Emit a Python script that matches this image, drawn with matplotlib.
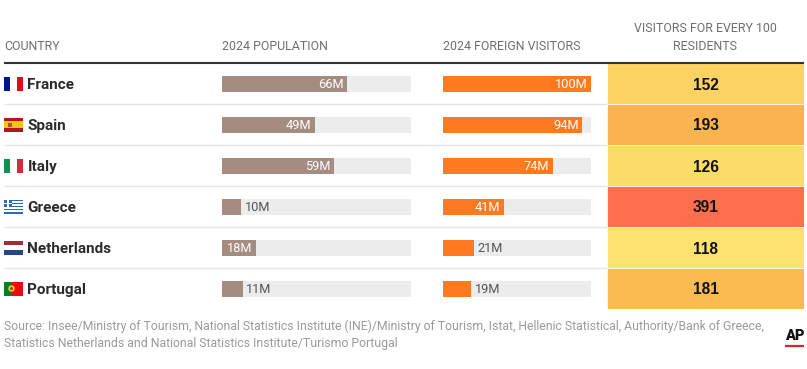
import matplotlib
matplotlib.use('Agg')
from matplotlib import pyplot as plt
from matplotlib.patches import Rectangle, Circle

plt.rcParams['font.family'] = ['Roboto', 'DejaVu Sans']

W, H = 807, 369

countries = ['France', 'Spain', 'Italy', 'Greece', 'Netherlands', 'Portugal']
population = [66, 49, 59, 10, 18, 11]
visitors = [100, 94, 74, 41, 21, 19]
per_100 = [152, 193, 126, 391, 118, 181]

headers = ['COUNTRY', '2024 POPULATION', '2024 FOREIGN VISITORS']
source = ('Source: Insee/Ministry of Tourism, National Statistics Institute (INE)/Ministry of Tourism, Istat, '
          'Hellenic Statistical, Authority/Bank of Greece,\n'
          'Statistics Netherlands and National Statistics Institute/Turismo Portugal')

heat_colors = ['#fcd262', '#f9b44f', '#fcdb69', '#ff6f4e', '#fde270', '#fbbb50']
flag_stripes = {
    'France': ('v', ['#00148c', '#ffffff', '#e30b17']),
    'Spain': ('h', ['#b5161c', '#f7c31a', '#f7c31a', '#b5161c']),
    'Italy': ('v', ['#0f9150', '#ffffff', '#cf3040']),
    'Greece': ('h', ['#2a6cb0', '#ffffff'] * 4 + ['#2a6cb0']),
    'Netherlands': ('h', ['#a8283c', '#ffffff', '#23478c']),
    'Portugal': ('v', ['#0f7a2a', '#0f7a2a', '#f00a0a', '#f00a0a', '#f00a0a']),
}

TOP, ROW = 63, 41


def px_axes(fig, x0, x1, y0, y1):
    return fig.add_axes([x0 / W, 1 - y1 / H, (x1 - x0) / W, (y1 - y0) / H])


def draw_bars(ax, values, color, width_px):
    ax.set_xlim(0, 100)
    ax.set_ylim(len(values) - 0.5, -0.5)
    ax.axis('off')
    rows = range(len(values))
    ax.barh(rows, [100] * len(values), height=16 / ROW, color='#ececec')
    ax.barh(rows, values, height=16 / ROW, color=color)
    for i, v in enumerate(values):
        # label goes inside only if the bar is long enough to hold it
        if v * width_px / 100 >= 33:
            ax.annotate(f'{v}M', (v, i), xytext=(-2.4, -0.9), textcoords='offset points',
                        ha='right', va='center', fontsize=9.2, color='#ffffff')
        else:
            ax.annotate(f'{v}M', (v, i), xytext=(2.6, -0.9), textcoords='offset points',
                        ha='left', va='center', fontsize=9.2, color='#555555')


def draw_flag(ax, name, yc):
    x0, w, h = 4, 19, 14
    kind, cols = flag_stripes[name]
    n = len(cols)
    for k, c in enumerate(cols):
        if kind == 'v':
            ax.add_patch(Rectangle((x0 + k * w / n, yc - h / 2), w / n, h, color=c, lw=0))
        else:
            ax.add_patch(Rectangle((x0, yc - h / 2 + k * h / n), w, h / n, color=c, lw=0))
    if name == 'Greece':
        ax.add_patch(Rectangle((x0, yc - h / 2), 7.5, 7.8, color='#2a6cb0', lw=0))
        ax.add_patch(Rectangle((x0 + 3, yc - h / 2), 1.5, 7.8, color='#ffffff', lw=0))
        ax.add_patch(Rectangle((x0, yc - h / 2 + 3.2), 7.5, 1.5, color='#ffffff', lw=0))
    if name == 'Spain':
        ax.add_patch(Rectangle((x0 + 4, yc - 2), 4, 4, color='#b0552a', lw=0))
    if name == 'Portugal':
        ax.add_patch(Circle((x0 + 7.5, yc), 3.2, color='#e8d020', lw=0))
        ax.add_patch(Circle((x0 + 7.5, yc), 1.5, color='#c8201c', lw=0))


fig = plt.figure(figsize=(W / 100, H / 100), dpi=100, facecolor='white')

# whole figure layer in pixel coordinates for rules, text and flags
bg = fig.add_axes([0, 0, 1, 1])
bg.set_xlim(0, W)
bg.set_ylim(H, 0)
bg.axis('off')

for i in range(1, len(countries)):
    bg.plot([4, 607], [TOP + i * ROW] * 2, color='#e4e4e4', lw=1, solid_capstyle='butt')

for i, name in enumerate(countries):
    yc = TOP + (i + 0.5) * ROW
    draw_flag(bg, name, yc)
    bg.text(27.5, yc, name, fontsize=11, fontweight='bold', color='#2b2b2b', va='center_baseline')

for x, label in zip([4, 222, 443], headers):
    bg.text(x, 46.5, label, fontsize=8.9, color='#6f6f6f', va='center')
bg.text(705, 37.5, 'VISITORS FOR EVERY 100\nRESIDENTS', fontsize=8.9, color='#6f6f6f',
        ha='center', va='center', linespacing=1.56)

bg.text(4, 335, source, fontsize=8.8, color='#9a9a9a', va='center', linespacing=1.35)

bg.text(795, 335.5, 'AP', fontsize=10.5, fontweight='black', color='#111111', ha='center', va='center')
bg.plot([785, 804], [345.5, 345.5], color='#d8222f', lw=1.6, solid_capstyle='butt')

pop_ax = px_axes(fig, 222, 411, TOP, TOP + 6 * ROW)
draw_bars(pop_ax, population, '#a58c81', 189)
vis_ax = px_axes(fig, 443, 591, TOP, TOP + 6 * ROW)
draw_bars(vis_ax, visitors, '#fd7a1e', 148)

# heat column: one full-width cell per country, text is the value
heat_ax = px_axes(fig, 607, 804, TOP, TOP + 6 * ROW)
heat_ax.set_xlim(0, 1)
heat_ax.set_ylim(len(per_100) - 0.5, -0.5)
heat_ax.axis('off')
heat_ax.barh(range(len(per_100)), [1] * len(per_100), height=1, color=heat_colors,
             edgecolor='#ffffff', linewidth=0.5)
for i, v in enumerate(per_100):
    heat_ax.text(0.5, i, str(v), fontsize=11.2, fontweight='bold', family='Liberation Sans', color='#111111',
                 ha='center', va='center_baseline')

# heavy header rule over everything
bg.set_zorder(0)
top = fig.add_axes([0, 0, 1, 1], zorder=5)
top.set_xlim(0, W)
top.set_ylim(H, 0)
top.axis('off')
top.plot([4, 804], [63, 63], color='#333333', lw=1.5, solid_capstyle='butt')

fig.savefig('out.png', dpi=100)
plt.close(fig)
